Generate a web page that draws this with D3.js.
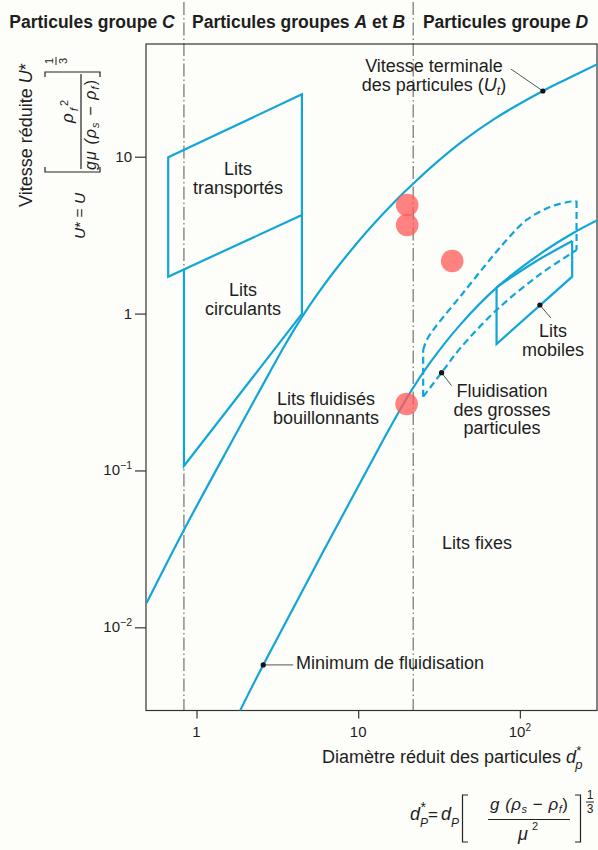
<!DOCTYPE html>
<html><head><meta charset="utf-8">
<script src="https://cdn.jsdelivr.net/npm/d3@7"></script>
<style>
html,body{margin:0;padding:0;background:#fdfdf9;}
svg{display:block;font-family:"Liberation Sans",Arial,Helvetica,sans-serif;}
</style></head><body>
<svg id="chart" width="598" height="850"></svg>
<script>
// ---------- data (dp*, U*) ----------
const xTickValues = [1, 10, 100];
const xTickLabels = [["1", ""], ["10", ""], ["10", "2"]];
const yTickValues = [0.01, 0.1, 1, 10];
const yTickLabels = [["10", "\u22122"], ["10", "\u22121"], ["1", ""], ["10", ""]];
const groupBoundaries = [0.836, 21.88];
const groupNames = [["Particules groupe ", "C"], ["Particules groupes ", "A", " et ", "B"], ["Particules groupe ", "D"]];

const terminalVelocity = [[0.491, 0.0143], [0.836, 0.04178], [1.672, 0.1564], [2.512, 0.3362], [3.548, 0.6369],
  [4.486, 0.9489], [5.623, 1.3384], [7.079, 1.8471], [11.22, 3.300], [17.78, 5.478], [21.79, 6.697],
  [28.18, 8.555], [44.67, 12.65], [70.79, 17.62], [138.8, 26.24], [199.5, 31.63], [299.4, 38.74]];
const minFluidisation = [[1.855, 0.002932], [2.585, 0.00576], [14.28, 0.1564], [20.88, 0.3118], [27.76, 0.4844],
  [42.56, 0.8443], [72.05, 1.468], [133.0, 2.395], [212.7, 3.251], [299.4, 3.923]];
const transportedBox = [[0.668, 9.91], [4.486, 25.0], [4.486, 4.25], [0.668, 1.719]];
const circulatingBox = [[4.486, 4.25], [4.486, 0.994], [0.836, 0.1068], [0.836, 1.911]];
const mobileTop = [[71.76, 1.471], [123.8, 2.132], [210.6, 2.902]];
const mobileRest = [[210.6, 2.902], [210.6, 1.719], [71.76, 0.640], [71.76, 1.471]];
const largeTop = [[25.23, 0.5861], [26.98, 0.699], [44.42, 1.349], [82.77, 2.944], [110.0, 3.95],
  [153.3, 4.779], [206.8, 5.183], [224.2, 5.222]];
const largeBottom = [[25.23, 0.2953], [32.79, 0.4201], [42.56, 0.5976], [72.05, 1.058], [133.0, 1.776], [224.2, 2.543]];
const redPoints = [[20.09, 4.92], [20.09, 3.67], [38.14, 2.164], [19.93, 0.2654]];
const markerDots = [[138.8, 26.24], [2.585, 0.00576], [32.79, 0.4201], [133.0, 1.134]];

// ---------- layout ----------
const W = 598, H = 850;
const pL = 146, pR = 597, pT = 44, pB = 710.5;
const blue = "#12a6d8", ink = "#1e1e1e";
const svg = d3.select("#chart");
svg.append("rect").attr("width", W).attr("height", H).attr("fill", "#fdfdf9");

const x = d3.scaleLog().domain([0.487, 300]).range([pL, pR]);
const y = d3.scaleLog().domain([0.00295, 52.3]).range([pB, pT]);

// group separators
svg.selectAll(".grp").data(groupBoundaries).join("line")
  .attr("x1", d => x(d)).attr("x2", d => x(d)).attr("y1", 2).attr("y2", pB)
  .attr("stroke", "#555").attr("stroke-width", 1).attr("stroke-dasharray", "13,3,1.5,3");

// headers
const bx = [0, ...groupBoundaries.map(d => x(d)), W];
groupNames.forEach((parts, i) => {
  const t = svg.append("text").attr("x", (bx[i] + bx[i + 1]) / 2).attr("y", 28)
    .attr("text-anchor", "middle").attr("font-weight", "bold").attr("font-size", 17.5).attr("fill", ink);
  parts.forEach((p, j) => t.append("tspan").attr("font-style", j % 2 ? "italic" : "normal").text(p));
});

// frame
svg.append("rect").attr("x", pL).attr("y", pT).attr("width", pR - pL).attr("height", pB - pT)
  .attr("fill", "none").attr("stroke", "#333").attr("stroke-width", 1.2);

// axes
const gx = svg.append("g").attr("transform", `translate(0,${pB})`)
  .call(d3.axisBottom(x).tickValues(xTickValues).tickSize(8).tickFormat(""));
gx.select(".domain").remove();
gx.selectAll("line").attr("stroke", "#333").attr("stroke-width", 1.2);
const gy = svg.append("g").attr("transform", `translate(${pL},0)`)
  .call(d3.axisLeft(y).tickValues(yTickValues).tickSize(11).tickFormat(""));
gy.select(".domain").remove();
gy.selectAll("line").attr("stroke", "#333").attr("stroke-width", 1.2);

xTickValues.forEach((v, i) => {
  const t = svg.append("text").attr("x", x(v)).attr("y", 737).attr("text-anchor", "middle")
    .attr("font-size", 15).attr("fill", ink);
  t.append("tspan").text(xTickLabels[i][0]);
  if (xTickLabels[i][1]) t.append("tspan").attr("font-size", 10).attr("dy", -6).text(xTickLabels[i][1]);
});
yTickValues.forEach((v, i) => {
  const t = svg.append("text").attr("x", pL - 14).attr("y", y(v) + 5).attr("text-anchor", "end")
    .attr("font-size", 15).attr("fill", ink);
  t.append("tspan").text(yTickLabels[i][0]);
  if (yTickLabels[i][1]) t.append("tspan").attr("font-size", 10.5).attr("dy", -6).text(yTickLabels[i][1]);
});

// clip
svg.append("clipPath").attr("id", "clip").append("rect")
  .attr("x", pL).attr("y", pT).attr("width", pR - pL).attr("height", pB - pT);
const plot = svg.append("g").attr("clip-path", "url(#clip)");

const smooth = d3.line().x(d => x(d[0])).y(d => y(d[1])).curve(d3.curveCatmullRom.alpha(0.5));
const straight = d3.line().x(d => x(d[0])).y(d => y(d[1]));
const closed = d3.line().x(d => x(d[0])).y(d => y(d[1])).curve(d3.curveLinearClosed);

function stroke(sel, dash) {
  sel.attr("fill", "none").attr("stroke", blue).attr("stroke-width", 2.2).attr("stroke-linejoin", "miter");
  if (dash) sel.attr("stroke-dasharray", "7,4");
  return sel;
}
stroke(plot.append("path").attr("d", closed(transportedBox)));
stroke(plot.append("path").attr("d", straight(circulatingBox)));
stroke(plot.append("path").attr("d", smooth(terminalVelocity)));
stroke(plot.append("path").attr("d", smooth(minFluidisation)));
stroke(plot.append("path").attr("d", smooth(mobileTop)));
stroke(plot.append("path").attr("d", straight(mobileRest)));
stroke(plot.append("path").attr("d", smooth(largeTop)), true);
stroke(plot.append("path").attr("d", smooth(largeBottom)), true);
stroke(plot.append("path").attr("d", straight([largeBottom[0], largeTop[0]])), true);
stroke(plot.append("path").attr("d", straight([largeTop[largeTop.length - 1], largeBottom[largeBottom.length - 1]])), true);

// annotation leaders & dots
const leaderOffsets = [[-32, -22], [30, 0], [10, 13], [11, 13]];
markerDots.forEach((d, i) => {
  const px = x(d[0]), py = y(d[1]);
  svg.append("line").attr("x1", px).attr("y1", py).attr("x2", px + leaderOffsets[i][0]).attr("y2", py + leaderOffsets[i][1])
    .attr("stroke", "#555").attr("stroke-width", 1);
  svg.append("circle").attr("cx", px).attr("cy", py).attr("r", 2.6).attr("fill", "#111");
});

// labels
function label(lines, cx, y0, anchor) {
  lines.forEach((l, i) => {
    svg.append("text").attr("x", cx).attr("y", y0 + i * 18.5).attr("text-anchor", anchor || "middle")
      .attr("font-size", 18).attr("fill", ink).text(l);
  });
}
label(["Lits", "transportés"], 238, 175);
label(["Lits", "circulants"], 243, 296);
label(["Lits fluidisés", "bouillonnants"], 326, 405);
label(["Lits fixes"], 477, 549);
label(["Minimum de fluidisation"], 296, 669, "start");
label(["Fluidisation", "des grosses", "particules"], 502, 397);
label(["Lits", "mobiles"], 553, 337);
label(["Vitesse terminale"], 434, 72);
{
  const t = svg.append("text").attr("x", 434).attr("y", 90.5).attr("text-anchor", "middle")
    .attr("font-size", 18).attr("fill", ink);
  t.append("tspan").text("des particules (");
  t.append("tspan").attr("font-style", "italic").text("U");
  t.append("tspan").attr("font-style", "italic").attr("font-size", 12).attr("dy", 4).text("t");
  t.append("tspan").attr("dy", -4).text(")");
}

// red points
svg.selectAll(".rp").data(redPoints).join("circle")
  .attr("cx", d => x(d[0])).attr("cy", d => y(d[1])).attr("r", 11.3)
  .attr("fill", "#ff5a5a").attr("fill-opacity", 0.76);

// y-axis title
{
  const t = svg.append("text").attr("transform", "translate(32,135) rotate(-90)")
    .attr("text-anchor", "middle").attr("font-size", 18).attr("fill", ink);
  t.append("tspan").text("Vitesse réduite ");
  t.append("tspan").attr("font-style", "italic").text("U");
  t.append("tspan").text("*");
}
// y formula (rotated)
{
  const g = svg.append("g").attr("transform", "translate(81,235) rotate(-90)").attr("fill", ink);
  const t = g.append("text").attr("x", -4).attr("y", 4).attr("font-size", 15.5);
  t.append("tspan").attr("font-style", "italic").text("U");
  t.append("tspan").text("* = ");
  t.append("tspan").attr("font-style", "italic").text("U");
  const br = "stroke:#222;stroke-width:1.2;fill:none";
  g.append("path").attr("d", "M68,-36 L63,-36 L63,19 L68,19").attr("style", br);
  g.append("path").attr("d", "M158,-36 L163,-36 L163,19 L158,19").attr("style", br);
  g.append("path").attr("d", "M66,0 L161,0").attr("style", br);
  g.append("text").attr("x", 112).attr("y", -8).attr("font-size", 17).attr("font-style", "italic").text("ρ");
  g.append("text").attr("x", 124).attr("y", -3).attr("font-size", 11).attr("font-style", "italic").text("f");
  g.append("text").attr("x", 129).attr("y", -13).attr("font-size", 11).text("2");
  const d = g.append("text").attr("x", 65).attr("y", 15).attr("font-size", 16).attr("font-style", "italic")
    .attr("textLength", 90).attr("lengthAdjust", "spacing");
  d.append("tspan").text("gμ (ρ");
  d.append("tspan").attr("font-size", 11).attr("dy", 3).text("s");
  d.append("tspan").attr("dy", -3).attr("font-style", "normal").text(" − ");
  d.append("tspan").text("ρ");
  d.append("tspan").attr("font-size", 11).attr("dy", 3).text("f");
  d.append("tspan").attr("dy", -3).attr("font-style", "normal").text(")");
  g.append("text").attr("x", 174).attr("y", -28).attr("font-size", 11).attr("text-anchor", "middle").text("1");
  g.append("path").attr("d", "M170,-25 L178,-25").attr("style", "stroke:#222;stroke-width:1;fill:none");
  g.append("text").attr("x", 174).attr("y", -14).attr("font-size", 11).attr("text-anchor", "middle").text("3");
}

// x-axis title
{
  const t = svg.append("text").attr("x", 322).attr("y", 763).attr("font-size", 18).attr("fill", ink);
  t.append("tspan").text("Diamètre réduit des particules ");
  t.append("tspan").attr("font-style", "italic").text("d");
  t.append("tspan").attr("font-size", 13).attr("dy", -8).text("*");
  t.append("tspan").attr("font-style", "italic").attr("font-size", 13).attr("dx", -6).attr("dy", 14).text("p");
}
// x formula
{
  const g = svg.append("g").attr("fill", ink);
  const add = (tx, xx, yy, fs, it, anchor) => g.append("text").attr("x", xx).attr("y", yy).attr("font-size", fs)
    .attr("font-style", it ? "italic" : "normal").attr("text-anchor", anchor || "start").text(tx);
  add("d", 410, 820, 18, true);
  add("*", 420.5, 812, 14, false);
  add("P", 420, 827, 12, true);
  add("=", 428, 820, 17, false);
  add("d", 441, 820, 18, true);
  add("P", 451, 827, 12, true);
  const br = "stroke:#222;stroke-width:1.2;fill:none";
  g.append("path").attr("d", "M468,795 L462.5,795 L462.5,842 L468,842").attr("style", br);
  g.append("path").attr("d", "M575,795 L580.5,795 L580.5,842 L575,842").attr("style", br);
  g.append("path").attr("d", "M488,819.5 L570,819.5").attr("style", br);
  const n = g.append("text").attr("x", 529).attr("y", 810).attr("font-size", 17).attr("font-style", "italic")
    .attr("text-anchor", "middle").attr("textLength", 78).attr("lengthAdjust", "spacing");
  n.append("tspan").text("g (ρ");
  n.append("tspan").attr("font-size", 11).attr("dy", 3).text("s");
  n.append("tspan").attr("dy", -3).attr("font-style", "normal").text(" − ");
  n.append("tspan").text("ρ");
  n.append("tspan").attr("font-size", 11).attr("dy", 3).text("f");
  n.append("tspan").attr("dy", -3).attr("font-style", "normal").text(")");
  add("μ", 518, 840, 18, true);
  add("2", 532, 830, 11, false);
  add("1", 590, 799, 12, false, "middle");
  g.append("path").attr("d", "M586,802 L594,802").attr("style", "stroke:#222;stroke-width:1;fill:none");
  add("3", 590, 813, 12, false, "middle");
}
</script>
</body></html>
